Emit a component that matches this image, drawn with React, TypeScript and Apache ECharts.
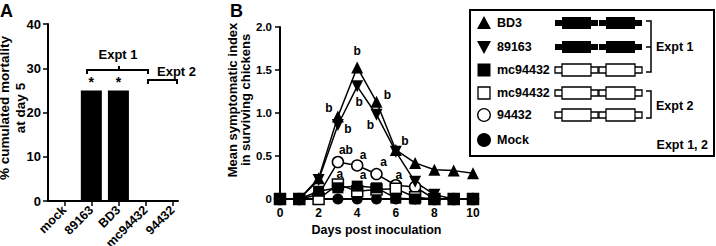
import React, { useEffect, useRef } from "react";
import * as echarts from "echarts";

// Panel A: cumulated mortality at day 5
const strains = ["mock", "89163", "BD3", "mc94432", "94432"];
const mortality = [0, 25, 25, 0, 0];
const mortalityMarks = ["", "*", "*", "", ""];

// Panel B: mean symptomatic index per day
const days = [0, 1, 2, 3, 4, 5, 6, 7, 8, 9, 10];
const bd3Index = [0, 0, 0.24, 0.96, 1.53, 1.13, 0.57, 0.42, 0.34, 0.33, 0.3];
const s89163Index = [0, 0, 0.22, 0.86, 1.31, 0.98, 0.55, 0.2, 0.05, 0, 0];
const mcExpt1Index = [0, 0, 0.09, 0.13, 0.15, 0.13, 0.01, 0, 0, 0, 0];
const mcExpt2Index = [0, 0, 0, 0.17, 0.09, 0.11, 0.12, 0.02, 0, 0, 0];
const wt94432Index = [0, 0, 0.05, 0.43, 0.39, 0.29, 0.16, 0.14, 0, 0, 0];
const mockIndex = [0, 0, 0, 0, 0, 0, 0, 0, 0, 0, 0];

// Statistical group letters per day
const bd3Letters = ["", "", "", "b", "b", "b", "b", "", "", "", ""];
const s89163Letters = ["", "", "", "b", "b", "b", "", "", "", "", ""];
const mcExpt1Letters = ["", "", "", "a", "a", "", "", "", "", "", ""];
const wt94432Letters = ["", "", "", "ab", "a", "a", "a", "", "", "", ""];
const noLetters = ["", "", "", "", "", "", "", "", "", "", ""];

const legendNames = ["BD3", "89163", "mc94432", "mc94432", "94432", "Mock"];

const FONT = "'Liberation Sans', Arial, Helvetica, sans-serif";
const txt = (size: number) => ({
  fontFamily: FONT,
  fontWeight: "bold" as const,
  fontSize: size,
  color: "#000",
});

type Offsets = Record<number, [number, number]>;
const bd3Off: Offsets = { 3: [-9, -8], 4: [0, -16], 5: [11, -7], 6: [9, -9] };
const s89163Off: Offsets = { 3: [10, 4], 4: [2, 16], 5: [-6, 10] };
const mcExpt1Off: Offsets = { 3: [2, -14], 4: [6, -11] };
const wt94432Off: Offsets = { 3: [8, -12], 4: [6, -10], 5: [7, -12], 6: [3, -10] };

function lineSeries(
  name: string,
  values: number[],
  letters: string[],
  offsets: Offsets,
  symbol: string,
  rotate: number,
  filled: boolean,
  size: number
) {
  return {
    type: "line",
    name,
    xAxisIndex: 1,
    yAxisIndex: 1,
    showAllSymbol: true,
    symbol,
    symbolSize: size,
    symbolRotate: rotate,
    lineStyle: { color: "#000", width: 1.5 },
    itemStyle: {
      color: filled ? "#000" : "#fff",
      borderColor: "#000",
      borderWidth: filled ? 0 : 1.5,
    },
    emphasis: { disabled: true },
    data: days.map((d, i) => {
      const item: any = { value: [d, values[i]] };
      if (letters[i]) {
        item.label = {
          show: true,
          position: "inside",
          formatter: letters[i],
          offset: offsets[i] || [0, -12],
          ...txt(12),
        };
      }
      return item;
    }),
  };
}

function geneRow(cy: number, filled: boolean) {
  const fill = filled ? "#000" : "#fff";
  const lw = filled ? 0 : 1.3;
  const out: any[] = [];
  [555, 599].forEach((x0) => {
    out.push({
      type: "rect",
      shape: { x: x0, y: cy - 3, width: 43, height: 6 },
      style: { fill, stroke: "#000", lineWidth: lw },
    });
    out.push({
      type: "rect",
      shape: { x: x0 + 7, y: cy - 6, width: 29, height: 12 },
      style: { fill, stroke: "#000", lineWidth: lw },
    });
  });
  return out;
}

function buildOption() {
  const axisLine = { show: true, onZero: false, lineStyle: { color: "#000", width: 2 } };
  const tick = { show: true, inside: false, length: 5, lineStyle: { color: "#000", width: 1.5 } };

  const rowsY = [23, 47, 70, 93, 115, 140];
  const mx = 484;
  const legendEls: any[] = [
    {
      type: "rect",
      shape: { x: 470, y: 10, width: 244, height: 146 },
      style: { fill: "#fff", stroke: "#000", lineWidth: 2 },
    },
    {
      type: "polygon",
      shape: { points: [[mx - 7, rowsY[0] + 6], [mx + 7, rowsY[0] + 6], [mx, rowsY[0] - 7]] },
      style: { fill: "#000" },
    },
    {
      type: "polygon",
      shape: { points: [[mx - 7, rowsY[1] - 6], [mx + 7, rowsY[1] - 6], [mx, rowsY[1] + 7]] },
      style: { fill: "#000" },
    },
    {
      type: "rect",
      shape: { x: mx - 6.5, y: rowsY[2] - 6.5, width: 13, height: 13 },
      style: { fill: "#000" },
    },
    {
      type: "rect",
      shape: { x: mx - 6, y: rowsY[3] - 6, width: 12, height: 12 },
      style: { fill: "#fff", stroke: "#000", lineWidth: 1.3 },
    },
    {
      type: "circle",
      shape: { cx: mx, cy: rowsY[4], r: 6.3 },
      style: { fill: "#fff", stroke: "#000", lineWidth: 1.3 },
    },
    {
      type: "circle",
      shape: { cx: mx, cy: rowsY[5], r: 7 },
      style: { fill: "#000" },
    },
    ...legendNames.map((n, i) => ({
      type: "text",
      x: 497,
      y: rowsY[i],
      style: { text: n, ...txt(12.5), fill: "#000", align: "left", verticalAlign: "middle" },
    })),
    ...geneRow(rowsY[0], true),
    ...geneRow(rowsY[1], true),
    ...geneRow(rowsY[2], false),
    ...geneRow(rowsY[3], false),
    ...geneRow(rowsY[4], false),
    {
      type: "polyline",
      shape: { points: [[646, 21], [651, 21], [651, 72], [646, 72]] },
      style: { stroke: "#000", lineWidth: 1.5, fill: "none" },
    },
    {
      type: "line",
      shape: { x1: 646, y1: 47, x2: 651, y2: 47 },
      style: { stroke: "#000", lineWidth: 1.5 },
    },
    {
      type: "polyline",
      shape: { points: [[646, 91], [651, 91], [651, 118], [646, 118]] },
      style: { stroke: "#000", lineWidth: 1.5, fill: "none" },
    },
    {
      type: "text",
      x: 656,
      y: 47,
      style: { text: "Expt 1", ...txt(12.5), fill: "#000", align: "left", verticalAlign: "middle" },
    },
    {
      type: "text",
      x: 656,
      y: 106,
      style: { text: "Expt 2", ...txt(12.5), fill: "#000", align: "left", verticalAlign: "middle" },
    },
    {
      type: "text",
      x: 708,
      y: 145,
      style: { text: "Expt 1, 2", ...txt(12.5), fill: "#000", align: "right", verticalAlign: "middle" },
    },
  ];

  const panelAEls: any[] = [
    {
      type: "text",
      x: 0,
      y: 11,
      style: { text: "A", ...txt(18), fill: "#000", align: "left", verticalAlign: "middle" },
    },
    {
      type: "text",
      x: 12,
      y: 108,
      rotation: Math.PI / 2,
      style: {
        text: "% cumulated mortality\nat day 5",
        ...txt(13.5),
        fill: "#000",
        align: "center",
        verticalAlign: "middle",
        lineHeight: 16,
      },
    },
    {
      type: "polyline",
      shape: { points: [[87, 74], [87, 70], [148, 70], [148, 74]] },
      style: { stroke: "#000", lineWidth: 2, fill: "none" },
    },
    {
      type: "line",
      shape: { x1: 119, y1: 70, x2: 119, y2: 66 },
      style: { stroke: "#000", lineWidth: 2 },
    },
    {
      type: "polyline",
      shape: { points: [[148, 84], [148, 80], [177, 80], [177, 84]] },
      style: { stroke: "#000", lineWidth: 2, fill: "none" },
    },
    {
      type: "text",
      x: 118,
      y: 54,
      style: { text: "Expt 1", ...txt(13), fill: "#000", align: "center", verticalAlign: "middle" },
    },
    {
      type: "text",
      x: 157,
      y: 71,
      style: { text: "Expt 2", ...txt(13), fill: "#000", align: "left", verticalAlign: "middle" },
    },
  ];

  const panelBEls: any[] = [
    {
      type: "text",
      x: 230,
      y: 11,
      style: { text: "B", ...txt(18), fill: "#000", align: "left", verticalAlign: "middle" },
    },
    {
      type: "text",
      x: 239,
      y: 100,
      rotation: Math.PI / 2,
      style: {
        text: "Mean symptomatic index\nin surviving chickens",
        ...txt(13),
        fill: "#000",
        align: "center",
        verticalAlign: "middle",
        lineHeight: 13.5,
      },
    },
  ];

  return {
    animation: false,
    backgroundColor: "#fff",
    grid: [
      { left: 48, top: 24, width: 130, height: 177, containLabel: false, outerBoundsMode: "none" },
      { left: 280, top: 27, width: 193, height: 172, containLabel: false, outerBoundsMode: "none" },
    ],
    xAxis: [
      {
        type: "value",
        gridIndex: 0,
        min: -0.6,
        max: 4.2,
        splitLine: { show: false },
        axisLine,
        axisTick: { ...tick, customValues: [0, 1, 2, 3, 4] },
        axisLabel: {
          customValues: [0, 1, 2, 3, 4],
          rotate: 45,
          margin: 7,
          formatter: (v: number) => strains[Math.round(v)] ?? "",
          ...txt(12.5),
        },
      },
      {
        type: "value",
        gridIndex: 1,
        min: 0,
        max: 10,
        interval: 2,
        splitLine: { show: false },
        axisLine,
        axisTick: tick,
        axisLabel: { margin: 8, ...txt(12) },
        name: "Days post inoculation",
        nameLocation: "middle",
        nameGap: 22,
        nameTextStyle: txt(12.5),
      },
    ],
    yAxis: [
      {
        type: "value",
        gridIndex: 0,
        min: 0,
        max: 40,
        interval: 10,
        splitLine: { show: false },
        axisLine,
        axisTick: tick,
        axisLabel: { margin: 7, ...txt(13) },
      },
      {
        type: "value",
        gridIndex: 1,
        min: 0,
        max: 2,
        interval: 0.5,
        splitLine: { show: false },
        axisLine,
        axisTick: tick,
        axisLabel: {
          margin: 8,
          formatter: (v: number) => (v === 0 ? "0" : v.toFixed(1)),
          ...txt(11.5),
        },
      },
    ],
    series: [
      {
        type: "bar",
        xAxisIndex: 0,
        yAxisIndex: 0,
        barWidth: 21,
        itemStyle: { color: "#000" },
        emphasis: { disabled: true },
        label: {
          show: true,
          position: "top",
          distance: 1,
          formatter: (p: any) => mortalityMarks[p.dataIndex],
          ...txt(14),
        },
        data: strains.map((_, i) => [i, mortality[i]]),
      },
      lineSeries("Mock", mockIndex, noLetters, {}, "circle", 0, true, 11),
      lineSeries("94432", wt94432Index, wt94432Letters, wt94432Off, "circle", 0, false, 11),
      lineSeries("mc94432 Expt 2", mcExpt2Index, noLetters, {}, "rect", 0, false, 11),
      lineSeries("89163", s89163Index, s89163Letters, s89163Off, "triangle", 180, true, 12),
      lineSeries("BD3", bd3Index, bd3Letters, bd3Off, "triangle", 0, true, 12),
      lineSeries("mc94432 Expt 1", mcExpt1Index, mcExpt1Letters, mcExpt1Off, "rect", 0, true, 11),
    ],
    graphic: [...panelAEls, ...panelBEls, ...legendEls],
  };
}

export default function App() {
  const ref = useRef<HTMLDivElement>(null);
  useEffect(() => {
    if (!ref.current) return;
    const chart = echarts.init(ref.current, null, { renderer: "svg" });
    chart.setOption(buildOption() as any);
    return () => chart.dispose();
  }, []);
  return (
    <div
      ref={ref}
      style={{ position: "absolute", left: 0, top: 0, width: 716, height: 246, background: "#fff" }}
    />
  );
}
